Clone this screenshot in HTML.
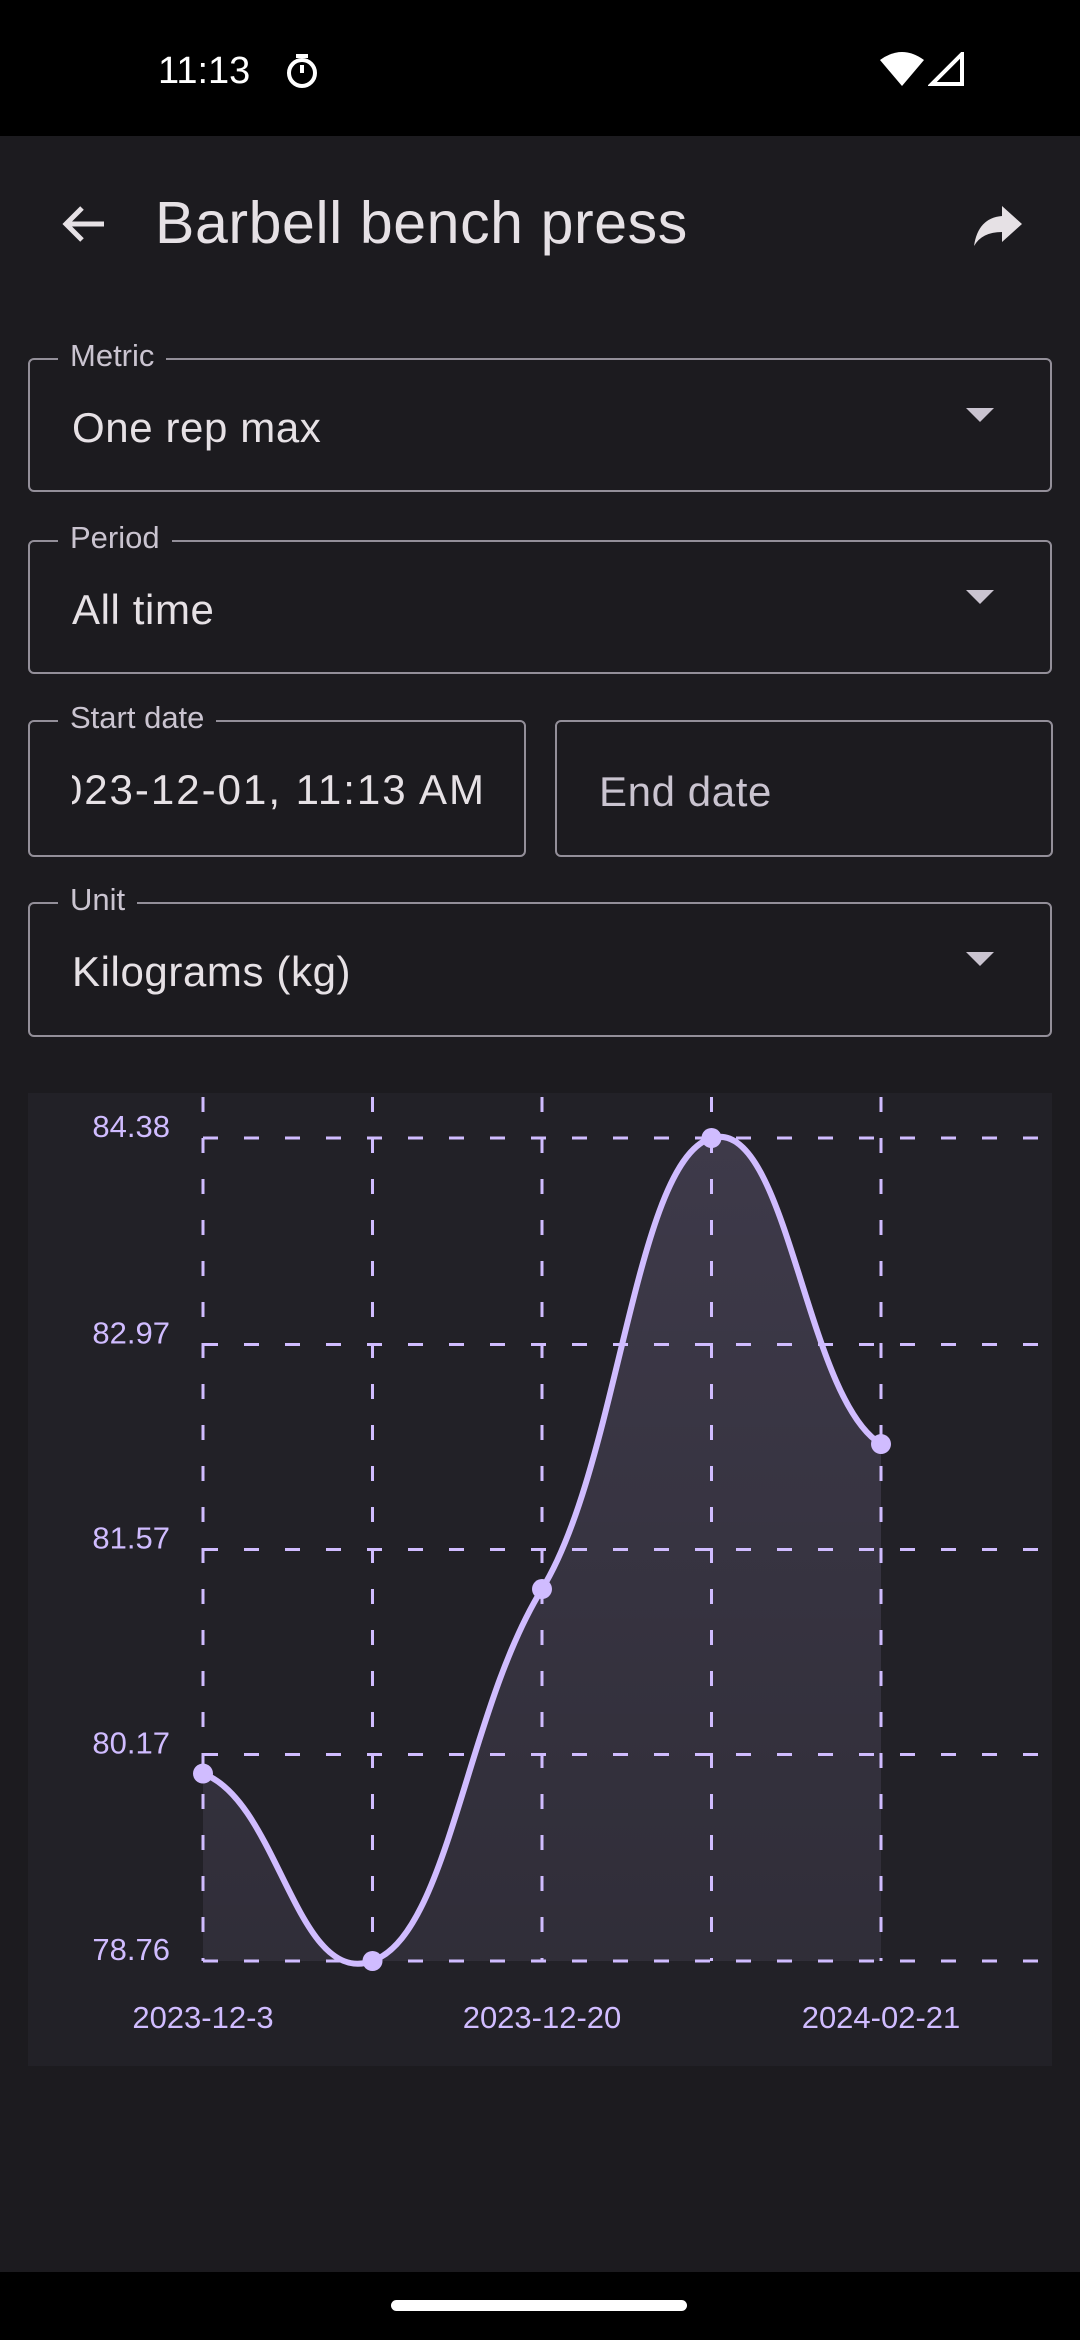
<!DOCTYPE html>
<html><head><meta charset="utf-8">
<style>
body{margin:0;width:1080px;height:2340px;background:#1c1b1f;font-family:"Liberation Sans",sans-serif;overflow:hidden;position:relative;color:#e6e1e5}
.abs{position:absolute}
.field{position:absolute;border:2px solid #938f99;border-radius:6px;box-sizing:border-box}
.lbl{position:absolute;top:-22px;left:28px;background:#1c1b1f;padding:0 12px;font-size:31px;color:#cac4d0}
.val{position:absolute;left:42px;top:44px;font-size:42px;letter-spacing:0.6px;color:#e6e1e5;white-space:nowrap}
.dd{position:absolute;right:56px;top:48px;width:0;height:0;border-left:14px solid transparent;border-right:14px solid transparent;border-top:14px solid #cac4d0}
</style></head><body>
<div class="abs" style="left:0;top:0;width:1080px;height:136px;background:#000">
 <div class="abs" style="left:158px;top:50px;font-size:38px;color:#fff">11:13</div>
 <svg class="abs" style="left:285px;top:52px" width="34" height="38"><circle cx="17" cy="21" r="13" fill="none" stroke="#fff" stroke-width="4"/><path d="M11 4h12M17 21V13" stroke="#fff" stroke-width="4"/></svg>
 <svg class="abs" style="left:880px;top:52px" width="44" height="34"><path d="M0 8Q22-8 44 8L22 34Z" fill="#fff"/></svg>
 <svg class="abs" style="left:928px;top:52px" width="36" height="34"><path d="M34 2V32H4Z" fill="none" stroke="#fff" stroke-width="4"/></svg>
</div>
<svg class="abs" style="left:60px;top:204px" width="48" height="40"><path d="M44 20H6M22 4L6 20L22 36" fill="none" stroke="#e6e1e5" stroke-width="5"/></svg>
<div class="abs" style="left:155px;top:189px;font-size:59px;letter-spacing:0.6px">Barbell bench press</div>
<svg class="abs" style="left:972px;top:204px" width="52" height="44"><path d="M30 2L50 20L30 38V28Q10 28 2 42Q6 14 30 12Z" fill="#e6e1e5"/></svg>

<div class="field" style="left:28px;top:358px;width:1024px;height:134px"><div class="lbl">Metric</div><div class="val">One rep max</div><div class="dd"></div></div>
<div class="field" style="left:28px;top:540px;width:1024px;height:134px"><div class="lbl">Period</div><div class="val">All time</div><div class="dd"></div></div>
<div class="field" style="left:28px;top:720px;width:498px;height:137px;overflow:visible"><div class="lbl">Start date</div><div style="position:absolute;left:42px;right:38px;top:0;bottom:0;overflow:hidden"><div class="val" style="left:auto;right:0;letter-spacing:2px">2023-12-01, 11:13 AM</div></div></div>
<div class="field" style="left:555px;top:720px;width:498px;height:137px"><div class="val" style="top:46px;color:#cac4d0">End date</div></div>
<div class="field" style="left:28px;top:902px;width:1024px;height:135px"><div class="lbl">Unit</div><div class="val">Kilograms (kg)</div><div class="dd"></div></div>

<svg class="abs" id="chart" style="left:0;top:0" width="1080" height="2272">
<defs><linearGradient id="fg" x1="0" y1="0" x2="0" y2="1"><stop offset="0" stop-color="#d0bcff" stop-opacity="0.16"/><stop offset="1" stop-color="#d0bcff" stop-opacity="0.08"/></linearGradient></defs>
<rect x="28" y="1093" width="1024" height="973" fill="#222127"/>
<g id="grid"></g><path id="area" fill="url(#fg)"/><path id="line" fill="none" stroke="#d0bcff" stroke-width="6"/><g id="pts"></g><g id="labels"></g>
</svg>
<div class="abs" style="left:0;top:2272px;width:1080px;height:68px;background:#000"><div class="abs" style="left:391px;top:28px;width:296px;height:11px;border-radius:6px;background:#fff"></div></div>
<script>
const categories=["2023-12-3","2023-12-10","2023-12-20","2024-01-15","2024-02-21"];
const values=[80.04,78.76,81.30,84.38,82.29];
const yTicks=["78.76","80.17","81.57","82.97","84.38"];
const xLabelIdx=[0,2,4];
const NS="http://www.w3.org/2000/svg";
const yMin=78.76,yMax=84.38,yTop=1138,yBot=1961,x0=203,dx=169.5;
const X=i=>x0+i*dx, Y=v=>yBot-(v-yMin)/(yMax-yMin)*(yBot-yTop);
function mk(t,a,p){const e=document.createElementNS(NS,t);for(const k in a)e.setAttribute(k,a[k]);p.appendChild(e);return e;}
const grid=document.getElementById('grid'),lab=document.getElementById('labels'),pts=document.getElementById('pts');
yTicks.forEach(t=>{const y=Y(+t);
 const l=mk('line',{x1:x0,x2:1046,y1:y,y2:y,stroke:'#d0bcff','stroke-width':3,'stroke-dasharray':'15 26'},grid);
 
 
 const tx=mk('text',{x:170,y:y-1,'text-anchor':'end','font-size':31,fill:'#d0bcff','font-family':'Liberation Sans'},lab);tx.textContent=t;
 
 });
categories.forEach((c,i)=>{const x=X(i);
 const l=mk('line',{x1:x,x2:x,y1:1097,y2:yBot,stroke:'#d0bcff','stroke-width':3,'stroke-dasharray':'15 26'},grid);
 
 });
xLabelIdx.forEach(i=>{const tx=mk('text',{x:X(i),y:2028,'text-anchor':'middle','font-size':31,fill:'#d0bcff','font-family':'Liberation Sans'},lab);tx.textContent=categories[i];
 
 });
let d='M'+X(0)+' '+Y(values[0]);
for(let i=1;i<values.length;i++){const xa=X(i-1),xb=X(i),ya=Y(values[i-1]),yb=Y(values[i]);const prev=values[i-2]!==undefined?Y(values[i-2]):ya,next=values[i+1]!==undefined?Y(values[i+1]):yb;
 const c1y=ya+(yb-prev)*0.15,c2y=yb-(next-ya)*0.15;
 d+=` C${xa+dx*0.45} ${c1y} ${xb-dx*0.45} ${c2y} ${xb} ${yb}`;}
const line=document.getElementById('line');line.setAttribute('d',d);


const area=document.getElementById('area');area.setAttribute('d',d+` L${X(values.length-1)} ${yBot} L${X(0)} ${yBot}Z`);


values.forEach((v,i)=>{const c=mk('circle',{cx:X(i),cy:Y(v),r:10,fill:'#d0bcff'},pts);
 
 });
</script>
</body></html>
